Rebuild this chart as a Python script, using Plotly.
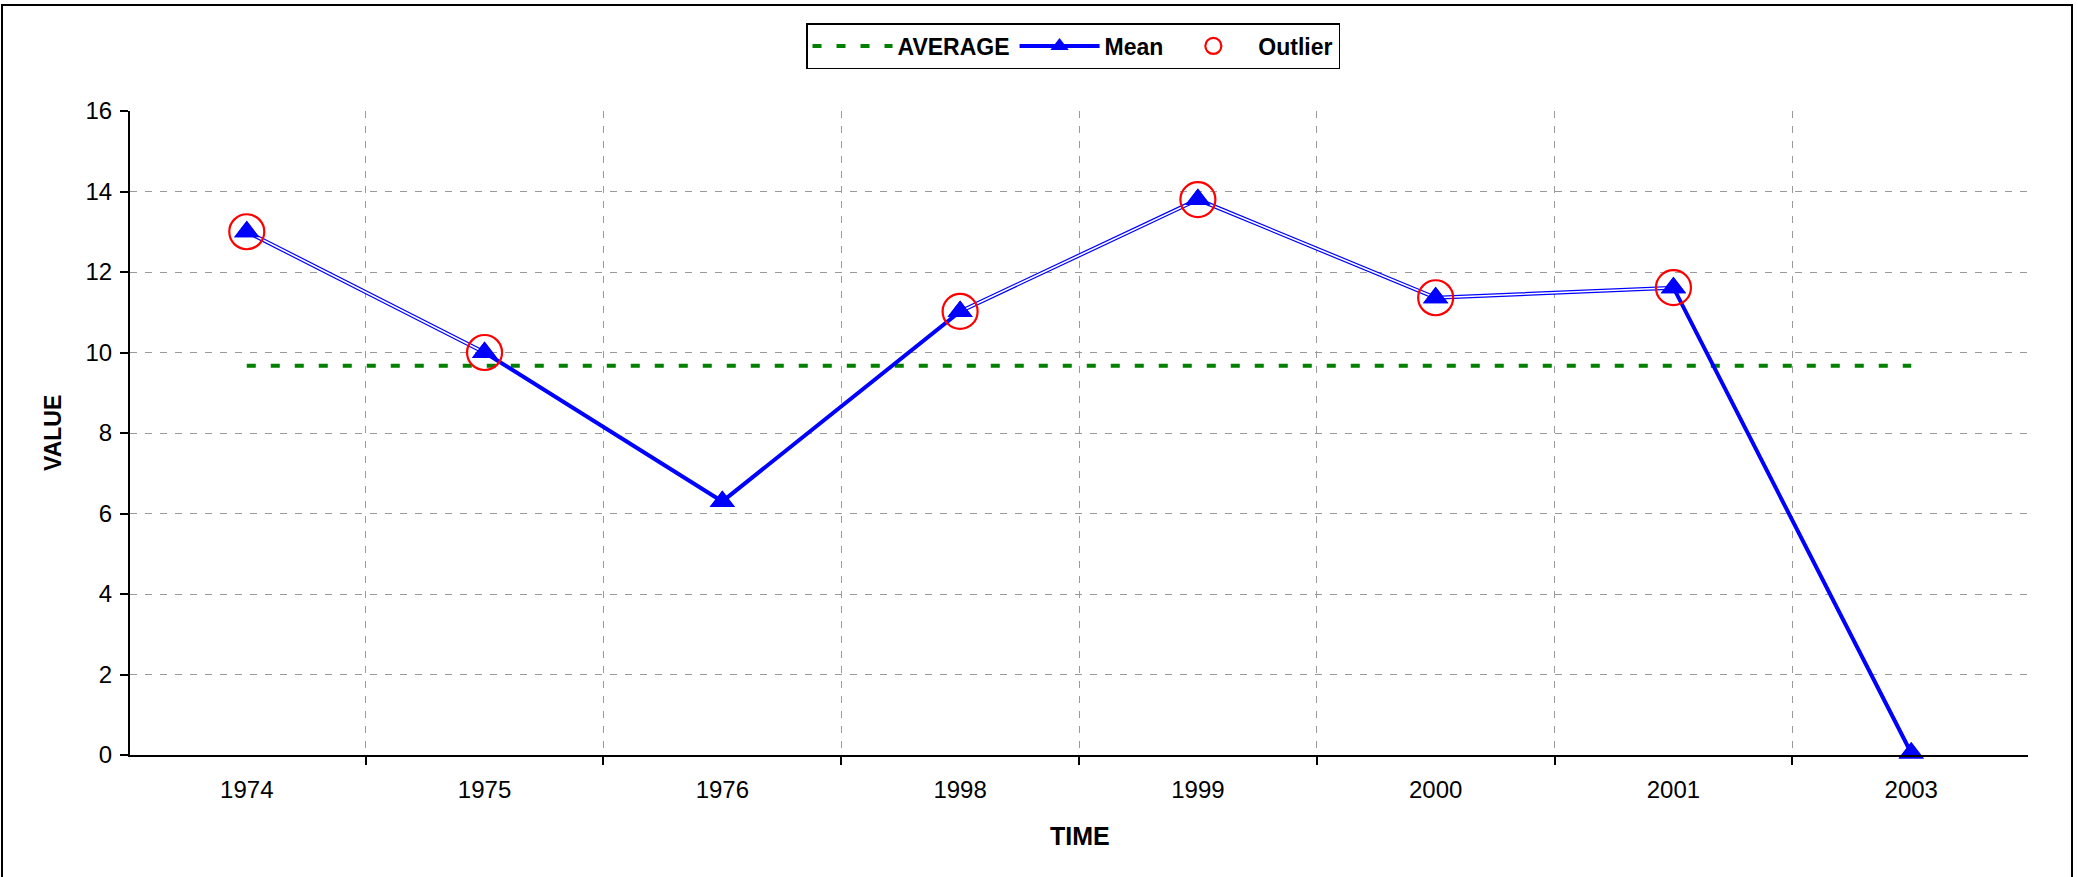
import plotly.graph_objects as go

# ---- data ----
categories = ["1974", "1975", "1976", "1998", "1999", "2000", "2001", "2003"]
mean_values = [13.0, 10.0, 6.3, 11.02, 13.8, 11.36, 11.61, 0.05]
outlier_values = [13.0, 10.0, None, 11.02, 13.8, 11.36, 11.61, None]
average_value = 9.67
average_values = [average_value] * len(categories)
y_ticks = [0, 2, 4, 6, 8, 10, 12, 14, 16]

W, H = 2078, 877
L, R, T, B = 130, 50, 111, 122
pw = W - L - R
ph = H - T - B

def px_x(x):
    return (x - L) / pw

def px_y(y):
    return (H - B - y) / ph

FONT = "Liberation Sans, Arial, sans-serif"

fig = go.Figure()

fig.add_trace(go.Scatter(
    x=categories, y=average_values, name="AVERAGE", mode="lines",
    line=dict(color="#008000", width=4, dash="9px,15px"),
))
fig.add_trace(go.Scatter(
    x=categories, y=mean_values, name="Mean", mode="lines+markers",
    line=dict(color="#0000FF", width=4),
    marker=dict(symbol="triangle-up", size=22, color="#0000FF"),
    cliponaxis=False,
))
# white core along outlier segments (double-line look)
fig.add_trace(go.Scatter(
    x=categories, y=outlier_values, mode="lines", showlegend=False,
    line=dict(color="white", width=1.6), connectgaps=False, hoverinfo="skip",
))
fig.add_trace(go.Scatter(
    x=categories, y=mean_values, mode="markers", showlegend=False,
    marker=dict(symbol="triangle-up", size=22, color="#0000FF"),
    cliponaxis=False, hoverinfo="skip",
))
fig.add_trace(go.Scatter(
    x=categories, y=outlier_values, name="Outlier", mode="markers",
    marker=dict(symbol="circle-open", size=35, color="#FF0000",
                line=dict(width=2.2, color="#FF0000")),
    cliponaxis=False,
))

fig.update_layout(
    width=W, height=H,
    margin=dict(l=L, r=R, t=T, b=B),
    paper_bgcolor="white", plot_bgcolor="white",
    font=dict(family=FONT, size=24, color="black"),
    showlegend=True,
    legend=dict(
        orientation="h", x=px_x(1073), xanchor="center", y=px_y(23), yanchor="top",
        bgcolor="white", bordercolor="black", borderwidth=1.5,
        font=dict(family=FONT, size=23, color="black", weight="bold"),
        itemwidth=80, traceorder="normal",
    ),
    xaxis=dict(
        type="category", tickson="boundaries",
        showline=True, linecolor="black", linewidth=2,
        ticks="outside", ticklen=8, tickwidth=1.5, tickcolor="black",
        showgrid=True, gridcolor="#9a9a9a", gridwidth=1, griddash="7px,8px",
        ticklabelstandoff=12,
        tickfont=dict(family=FONT, size=24, color="black"),
        zeroline=False,
    ),
    yaxis=dict(
        range=[0, 16], tickvals=y_ticks,
        showline=True, linecolor="black", linewidth=2,
        ticks="outside", ticklen=8, tickwidth=1.5, tickcolor="black",
        showgrid=True, gridcolor="#9a9a9a", gridwidth=1, griddash="7px,8px",
        ticklabelstandoff=3,
        tickfont=dict(family=FONT, size=24, color="black"),
        zeroline=False,
    ),
    annotations=[
        dict(text="<b>VALUE</b>", xref="paper", yref="paper", x=px_x(53), y=0.5,
             textangle=-90, showarrow=False, xanchor="center", yanchor="middle",
             font=dict(family=FONT, size=23, color="black")),
        dict(text="<b>TIME</b>", xref="paper", yref="paper", x=px_x(1080), y=px_y(836),
             showarrow=False, xanchor="center", yanchor="middle",
             font=dict(family=FONT, size=25, color="black")),
    ],
    shapes=[
        dict(type="rect", xref="paper", yref="paper",
             x0=px_x(2), x1=px_x(2072), y0=px_y(900), y1=px_y(5),
             line=dict(color="black", width=2), fillcolor="rgba(0,0,0,0)", layer="above"),
    ],
)

fig.write_html(
    "out.html",
    config={"displayModeBar": False},
    post_script="document.body.style.margin='0';document.body.style.overflow='hidden';",
)
